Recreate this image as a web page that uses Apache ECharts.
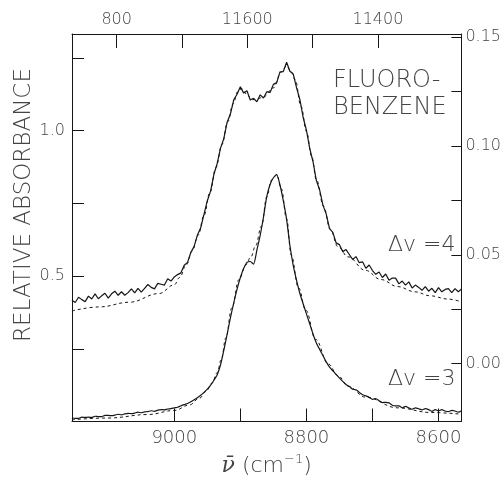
<!DOCTYPE html>
<html>
<head>
<meta charset="utf-8">
<script src="https://cdn.jsdelivr.net/npm/echarts@6/dist/echarts.min.js"></script>
<style>
  html, body { margin: 0; padding: 0; background: #fff; }
  #chart { width: 504px; height: 482px; }
</style>
</head>
<body>
<div id="chart"></div>
<script>
// Fluorobenzene CH-stretch overtone bands, relative absorbance vs wavenumber (cm^-1)

// sampled wavenumbers of the recorded spectra
const wavenumbers = [
  9155, 9150, 9145, 9140, 9135, 9130, 9125, 9120, 9115, 9110, 9105, 9100, 9095, 9090, 9085, 9080,
  9075, 9070, 9065, 9060, 9055, 9050, 9045, 9040, 9035, 9030, 9025, 9020, 9015, 9010, 9005, 9000,
  8995, 8990, 8985, 8980, 8975, 8970, 8965, 8960, 8955, 8950, 8945, 8940, 8935, 8930, 8925, 8920,
  8915, 8910, 8905, 8900, 8895, 8890, 8885, 8880, 8875, 8870, 8865, 8860, 8855, 8850, 8845, 8840,
  8835, 8830, 8825, 8820, 8815, 8810, 8805, 8800, 8795, 8790, 8785, 8780, 8775, 8770, 8765, 8760,
  8755, 8750, 8745, 8740, 8735, 8730, 8725, 8720, 8715, 8710, 8705, 8700, 8695, 8690, 8685, 8680,
  8675, 8670, 8665, 8660, 8655, 8650, 8645, 8640, 8635, 8630, 8625, 8620, 8615, 8610, 8605, 8600,
  8595, 8590, 8585, 8580, 8575, 8570, 8565
];

// Δv = 4 band (recorded, noisy)
const absorbanceV4 = [
  .417, .409, .427, .419, .412, .431, .421, .439, .422, .432, .441, .424, .439, .448, .434, .446,
  .434, .443, .456, .442, .458, .445, .458, .471, .461, .456, .475, .472, .469, .491, .483, .497,
  .505, .511, .537, .547, .581, .602, .641, .666, .713, .759, .793, .850, .888, .940, .973, 1.029,
  1.058, 1.106, 1.125, 1.151, 1.129, 1.137, 1.105, 1.111, 1.099, 1.123, 1.112, 1.134, 1.131, 1.159, 1.165, 1.202,
  1.203, 1.235, 1.204, 1.195, 1.148, 1.108, 1.046, 1.002, .939, .893, .829, .796, .744, .713, .663, .650,
  .614, .608, .584, .591, .574, .557, .567, .546, .549, .527, .538, .519, .506, .514, .495, .507,
  .486, .493, .493, .473, .483, .469, .480, .459, .469, .461, .451, .464, .448, .458, .443, .460,
  .446, .454, .457, .443, .457, .446, .456
];

// Δv = 3 band (recorded)
const absorbanceV3 = [
  .012, .011, .011, .015, .014, .015, .014, .018, .017, .017, .021, .021, .020, .022, .025, .023,
  .026, .028, .027, .029, .032, .030, .033, .034, .037, .035, .039, .041, .040, .043, .044, .047,
  .049, .054, .058, .062, .068, .075, .082, .090, .100, .111, .125, .142, .161, .195, .245, .300,
  .357, .408, .455, .495, .526, .547, .550, .541, .589, .640, .703, .774, .815, .838, .849, .813,
  .759, .695, .605, .537, .486, .441, .405, .370, .336, .301, .270, .248, .227, .205, .187, .174,
  .162, .149, .138, .127, .120, .111, .109, .100, .092, .088, .083, .076, .079, .071, .065, .066,
  .064, .056, .054, .054, .047, .052, .047, .042, .047, .044, .040, .044, .041, .035, .041, .036,
  .041, .036, .034, .038, .036, .032, .037
];

// fitted band contours (dashed)
const fitWavenumbersV4 = [9155, 9113, 9068, 9023, 9000, 8992, 8982, 8973, 8964, 8955, 8946, 8937, 8928, 8919,
  8911, 8904, 8898, 8890, 8883, 8875, 8865, 8850, 8838, 8830, 8823, 8817, 8808, 8800, 8792, 8785,
  8774, 8764, 8752, 8737, 8711, 8687, 8662, 8636, 8612, 8586, 8565];
const fitV4 = [.380, .394, .410, .440, .470, .495, .538, .586, .640, .709, .788, .873, .952, 1.031,
  1.092, 1.134, 1.144, 1.125, 1.106, 1.108, 1.116, 1.147, 1.202, 1.223, 1.202, 1.175, 1.082, .997, .911, .832,
  .740, .661, .600, .566, .520, .488, .464, .446, .432, .421, .411];

const fitWavenumbersV3 = [9155, 9100, 9040, 9000, 8977, 8962, 8952, 8943, 8935, 8929, 8922, 8913, 8902, 8892,
  8884, 8877, 8868, 8860, 8853, 8845, 8838, 8830, 8823, 8812, 8801, 8786, 8767, 8752, 8737, 8711,
  8662, 8612, 8565];
const fitV3 = [.006, .012, .024, .038, .057, .080, .103, .132, .168, .212, .287, .390, .488, .538,
  .566, .604, .672, .772, .830, .848, .800, .697, .572, .460, .383, .282, .198, .157, .121, .084,
  .047, .031, .025];

// axis tick values and labels
const bottomTicks = [9000, 8900, 8800, 8700, 8600];
const bottomLabels = [9000, 8800, 8600];
const topTicks = [11800, 11700, 11600, 11500, 11400];
const topLabelValues = [11800, 11600, 11400];
const topLabelTexts = ['800', '11600', '11400'];
const leftTicks = [0.25, 0.5, 0.75, 1.0, 1.25];
const leftLabels = [0.5, 1.0];
const rightTicks = [0, 0.025, 0.05, 0.075, 0.1, 0.125, 0.15];
const rightLabels = [0, 0.05, 0.10, 0.15];

const pairs = (xs, ys) => xs.map((x, i) => [x, ys[i]]);

const ink = '#161616';
const labelInk = '#444';
const font = 'DejaVu Sans';
const weight = 200;

const chart = echarts.init(document.getElementById('chart'), null, { renderer: 'canvas' });

const axisLine = { show: true, onZero: false, lineStyle: { color: ink, width: 1 } };

chart.setOption({
  animation: false,
  backgroundColor: '#fff',
  grid: { left: 72, right: 40, top: 34, bottom: 59 },
  xAxis: [
    {
      type: 'value', position: 'bottom', inverse: true,
      min: 8565.4, max: 9154.9,
      axisLine,
      axisTick: { show: true, inside: true, length: 13, customValues: bottomTicks, lineStyle: { color: ink } },
      axisLabel: { customValues: bottomLabels, fontFamily: font, fontWeight: weight, fontSize: 18, color: labelInk, margin: 8,
        formatter: v => String(v) },
      splitLine: { show: false },
      name: '{nu|ν̄} (cm{sup|−1})',
      nameLocation: 'middle', nameGap: 32,
      nameTextStyle: {
        fontFamily: font, fontWeight: weight, fontSize: 22, color: labelInk,
        rich: {
          nu: { fontFamily: 'DejaVu Serif', fontStyle: 'italic', fontSize: 22, color: labelInk },
          sup: { fontFamily: font, fontWeight: weight, fontSize: 13, color: labelInk, verticalAlign: 'top', padding: [0, 0, 12, 0] }
        }
      }
    },
    {
      type: 'value', position: 'top', inverse: true,
      min: 11272.2, max: 11868.4,
      axisLine,
      axisTick: { show: true, inside: true, length: 14, customValues: topTicks, lineStyle: { color: ink } },
      axisLabel: {
        customValues: topLabelValues, fontFamily: font, fontWeight: weight, fontSize: 16, color: labelInk, margin: 6,
        formatter: v => topLabelTexts[topLabelValues.indexOf(v)] ?? ''
      },
      splitLine: { show: false }
    }
  ],
  yAxis: [
    {
      type: 'value', position: 'left',
      min: 0, max: 1.3322,
      axisLine,
      axisTick: { show: true, inside: true, length: 12, customValues: leftTicks, lineStyle: { color: ink } },
      axisLabel: { customValues: leftLabels, fontFamily: font, fontWeight: weight, fontSize: 16, color: labelInk, margin: 7,
        formatter: v => v.toFixed(1) },
      splitLine: { show: false }
    },
    {
      type: 'value', position: 'right',
      min: -0.02652, max: 0.15137,
      axisLine,
      axisTick: { show: true, inside: true, length: 10, customValues: rightTicks, lineStyle: { color: ink } },
      axisLabel: { customValues: rightLabels, fontFamily: font, fontWeight: weight, fontSize: 16, color: labelInk, margin: 4,
        formatter: v => v.toFixed(2) },
      splitLine: { show: false }
    }
  ],
  series: [
    {
      name: 'fit Δv=4', type: 'line', xAxisIndex: 0, yAxisIndex: 0,
      data: pairs(fitWavenumbersV4, fitV4), showSymbol: false, smooth: 0.4, smoothMonotone: 'x',
      lineStyle: { color: ink, width: 1, type: [3, 3] }, z: 2
    },
    {
      name: 'fit Δv=3', type: 'line', xAxisIndex: 0, yAxisIndex: 0,
      data: pairs(fitWavenumbersV3, fitV3), showSymbol: false, smooth: 0.4, smoothMonotone: 'x',
      lineStyle: { color: ink, width: 1, type: [3, 3] }, z: 2
    },
    {
      name: 'Δv=4', type: 'line', xAxisIndex: 0, yAxisIndex: 0,
      data: pairs(wavenumbers, absorbanceV4), showSymbol: false,
      lineStyle: { color: ink, width: 1.2 }, z: 3
    },
    {
      name: 'Δv=3', type: 'line', xAxisIndex: 0, yAxisIndex: 0,
      data: pairs(wavenumbers, absorbanceV3), showSymbol: false, smooth: 0.2,
      lineStyle: { color: ink, width: 1.2 }, z: 3
    }
  ],
  graphic: [
    { type: 'text', x: 24, y: 205, rotation: Math.PI / 2,
      style: { text: 'RELATIVE ABSORBANCE', font: `${weight} 23px "DejaVu Sans"`, fill: labelInk, align: 'center', verticalAlign: 'middle' } },
    { type: 'text', left: 333, top: 69, style: { text: 'FLUORO-', font: `${weight} 24px "DejaVu Sans"`, fill: labelInk } },
    { type: 'text', left: 333, top: 96, style: { text: 'BENZENE', font: `${weight} 24px "DejaVu Sans"`, fill: labelInk } },
    { type: 'text', left: 388, top: 234, style: { text: 'Δv =4', font: `${weight} 22px "DejaVu Sans"`, fill: labelInk } },
    { type: 'text', left: 388, top: 368, style: { text: 'Δv =3', font: `${weight} 22px "DejaVu Sans"`, fill: labelInk } }
  ]
});
</script>
</body>
</html>
